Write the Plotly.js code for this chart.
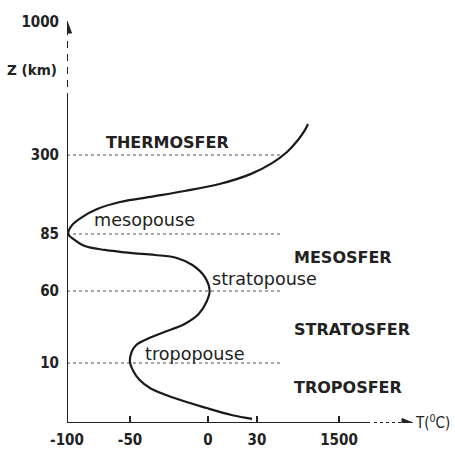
<!DOCTYPE html>
<html>
<head>
<meta charset="utf-8">
<script src="https://cdn.plot.ly/plotly-3.0.1.min.js"></script>
<style>html,body{margin:0;padding:0;background:#fff}#chart{width:455px;height:452px}</style>
</head>
<body>
<div id="chart"></div>
<script>
// ---- data ----
const tempTicks = [-100, -50, 0, 30, 1500];          // x tick labels (°C)
const altTicks  = [10, 60, 85, 300, 1000];           // y tick labels (km)
// temperature profile (T in °C, Z in km), bottom to top
const tempC = [27, 15, -1, -22, -37, -44, -48, -50, -49, -46, -39, -28, -15, -6, -1, 1, -2, -10, -20, -34, -50, -70, -86, -94, -99, -96, -88, -76, -58, -37, -15, 7, 26, 299, 568, 765, 891, 944];
const altKm = [0.7, 1.3, 2.5, 4.2, 5.8, 7.2, 8.7, 10.5, 17.6, 22.5, 26.7, 31.5, 37.1, 44, 52.4, 60, 66.1, 71.4, 74.5, 75.8, 76.7, 78, 79.7, 82.4, 85, 109, 131, 153, 172, 186, 202, 221, 248, 278, 316, 379, 432, 463];
const layerNames = ["THERMOSFER", "MESOSFER", "STRATOSFER", "TROPOSFER"];
const pauseNames = ["mesopouse", "stratopouse", "tropopouse"];
const pauseAlt = [85, 60, 10];
const gridAlt = [10, 60, 85, 300];

// ---- schematic (non-uniform) scale: value knots -> axis position ----
const T_KNOTS = [-100, -50, 0, 30, 1500];
const T_POS   = [67, 130, 208, 257, 339];
const Z_KNOTS = [0, 10, 60, 85, 300, 1000];
const Z_POS   = [423, 363, 291, 234, 155, 22];
function interp(v, ks, ps) {
  if (v <= ks[0]) return ps[0] + (v - ks[0]) * (ps[1] - ps[0]) / (ks[1] - ks[0]);
  for (let i = 0; i < ks.length - 1; i++) {
    if (v <= ks[i + 1]) return ps[i] + (v - ks[i]) * (ps[i + 1] - ps[i]) / (ks[i + 1] - ks[i]);
  }
  const n = ks.length - 1;
  return ps[n] + (v - ks[n]) * (ps[n] - ps[n - 1]) / (ks[n] - ks[n - 1]);
}
const mx = v => interp(v, T_KNOTS, T_POS);
const my = v => interp(v, Z_KNOTS, Z_POS);
const X_RANGE = [67, 455];
const toPaperX = px => (px - X_RANGE[0]) / (X_RANGE[1] - X_RANGE[0]);

const ink = '#222';
const x0 = mx(-100), y0 = my(0);
const shapes = [];
// dotted guide lines
gridAlt.forEach(z => shapes.push({type: 'line', xref: 'x', yref: 'y', x0: x0, x1: 283, y0: my(z), y1: my(z),
  line: {color: '#8a8a8a', width: 1.6, dash: 'dot'}, layer: 'below'}));
// y axis: solid, dashed, arrow
shapes.push({type: 'line', xref: 'x', yref: 'y', x0: x0, x1: x0, y0: y0, y1: 100, line: {color: ink, width: 2}});
shapes.push({type: 'line', xref: 'x', yref: 'y', x0: x0, x1: x0, y0: 100, y1: 33, line: {color: ink, width: 2, dash: '7px,6px'}});
shapes.push({type: 'path', xref: 'x', yref: 'y', path: `M ${x0} 21 L ${x0 - 4.5} 33 L ${x0 + 4.5} 33 Z`, fillcolor: ink, line: {color: ink, width: 1}});
// x axis: solid, dotted, arrow
shapes.push({type: 'line', xref: 'x', yref: 'y', x0: x0, x1: 370, y0: y0, y1: y0, line: {color: ink, width: 2}});
shapes.push({type: 'line', xref: 'x', yref: 'y', x0: 374, x1: 403, y0: y0, y1: y0, line: {color: ink, width: 2, dash: 'dot'}});
shapes.push({type: 'path', xref: 'x', yref: 'y', path: `M 413 ${y0} L 402 ${y0 - 4.5} L 402 ${y0 + 4.5} Z`, fillcolor: ink, line: {color: ink, width: 1}});

const bigFont = {family: 'DejaVu Sans', size: 16, color: ink, weight: 'bold'};
const smallFont = {family: 'DejaVu Sans', size: 17.6, color: ink};
const annotations = [
  {x: 104, y: 142, text: layerNames[0], font: bigFont},
  {x: 292, y: 257, text: layerNames[1], font: bigFont},
  {x: 292, y: 329, text: layerNames[2], font: bigFont},
  {x: 292, y: 387, text: layerNames[3], font: bigFont},
  {x: 92, y: my(pauseAlt[0]) - 14, text: pauseNames[0], font: smallFont},
  {x: 210, y: my(pauseAlt[1]) - 12, text: pauseNames[1], font: smallFont},
  {x: 143, y: my(pauseAlt[2]) - 9, text: pauseNames[2], font: smallFont},
  {xref: 'paper', x: toPaperX(5), y: 70, text: 'Z (km)', font: {family: 'DejaVu Sans', size: 13.5, color: ink, weight: 'bold'}},
  {x: 413, y: y0 - 1, text: 'T(<sup>0</sup>C)', font: {family: 'DejaVu Sans Condensed', size: 15, color: ink}}
].map(a => Object.assign({xref: 'x', yref: 'y', showarrow: false, xanchor: 'left', yanchor: 'middle'}, a));

const trace = {
  x: tempC.map(mx), y: altKm.map(my), type: 'scatter', mode: 'lines',
  line: {color: '#1a1a1a', width: 2.2, shape: 'spline', smoothing: 1},
  hoverinfo: 'skip', cliponaxis: false
};

const tickFont = {family: 'DejaVu Sans Condensed', size: 15, color: ink, weight: 'bold'};
const layout = {
  width: 455, height: 452,
  margin: {l: 67, r: 0, t: 0, b: 29, pad: 0},
  paper_bgcolor: '#fff', plot_bgcolor: '#fff',
  showlegend: false,
  xaxis: {range: X_RANGE, showgrid: false, zeroline: false, showline: false,
    tickmode: 'array', tickvals: tempTicks.map(mx), ticktext: tempTicks.map(String),
    ticks: 'inside', ticklen: 7, tickwidth: 2, tickcolor: ink, tickfont: tickFont, ticklabelstandoff: 6},
  yaxis: {range: [423, 0], showgrid: false, zeroline: false, showline: false,
    tickmode: 'array', tickvals: altTicks.map(my), ticktext: altTicks.map(String),
    ticks: '', tickfont: tickFont, ticklabelstandoff: 7},
  shapes: shapes,
  annotations: annotations
};
Plotly.newPlot('chart', [trace], layout, {displayModeBar: false, staticPlot: true});
</script>
</body>
</html>
